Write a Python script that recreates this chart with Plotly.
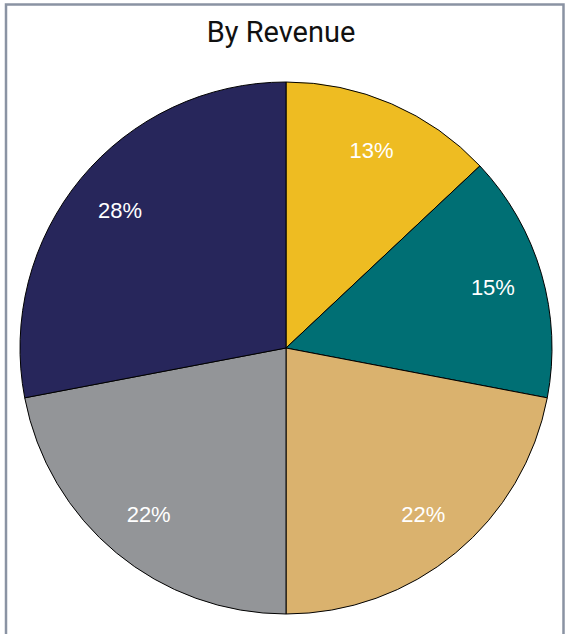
import plotly.graph_objects as go

labels = ["Segment A", "Segment B", "Segment C", "Segment D", "Segment E"]
values = [13, 15, 22, 22, 28]
colors = ["#EEBC22", "#006F74", "#DAB26E", "#939598", "#27265B"]
title_text = "By Revenue"

W, H = 567, 634
ml, mr, mt, mb = 20, 15, 82, 20

# filled pie (no text)
fig = go.Figure(go.Pie(
    labels=labels,
    values=values,
    sort=False,
    direction="clockwise",
    rotation=0,
    marker=dict(colors=colors, line=dict(color="#000000", width=1)),
    textinfo="none",
    hoverinfo="label+percent",
    showlegend=False,
))

# transparent ring carrying the percentage labels toward the rim
fig.add_trace(go.Pie(
    labels=labels,
    values=values,
    sort=False,
    direction="clockwise",
    rotation=0,
    hole=0.62,
    marker=dict(colors=["rgba(0,0,0,0)"] * len(values), line=dict(width=0)),
    texttemplate="%{percent:.0%}",
    textposition="inside",
    insidetextorientation="horizontal",
    textfont=dict(color="white", size=22, family="Liberation Sans Narrow, Arial Narrow, Liberation Sans, Arial"),
    hoverinfo="skip",
    showlegend=False,
))

pw, ph = W - ml - mr, H - mt - mb
def px_x(p):
    return (p - ml) / pw
def px_y(p):
    return (H - mb - p) / ph

fig.add_shape(
    type="path",
    xref="paper", yref="paper",
    path=f"M {px_x(6)},{px_y(650)} L {px_x(6)},{px_y(4.5)} L {px_x(563.5)},{px_y(4.5)} L {px_x(563.5)},{px_y(650)}",
    line=dict(color="#8A93A3", width=2.5),
)

fig.update_layout(
    width=W, height=H,
    margin=dict(l=ml, r=mr, t=mt, b=mb),
    paper_bgcolor="white",
    plot_bgcolor="white",
    title=dict(
        text=title_text,
        x=281 / W, xanchor="center",
        y=1 - 32 / H, yanchor="middle",
        xref="container", yref="container",
        font=dict(family="Roboto, Noto Sans, sans-serif", size=29, color="#111111"),
    ),
)

fig.write_html("out.html")
